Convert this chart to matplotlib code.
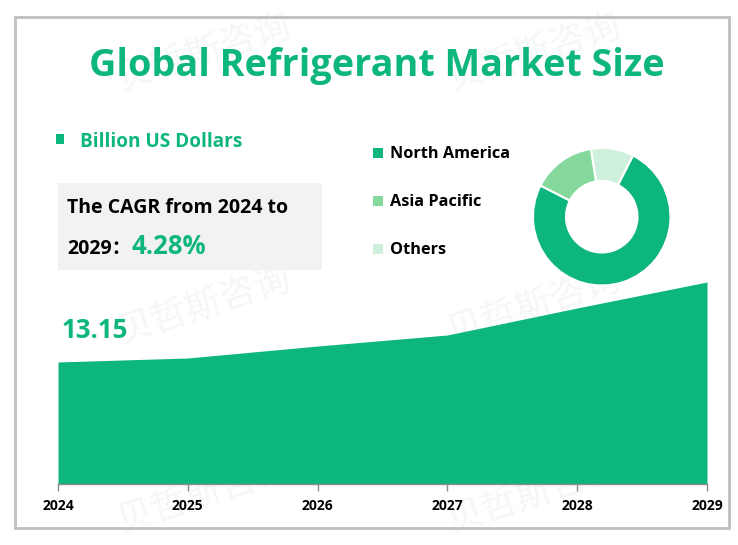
import matplotlib
matplotlib.use("Agg")
import matplotlib.pyplot as plt
from matplotlib.patches import Rectangle

W, H = 738, 545
GREEN = "#0DB57F"
plt.rcParams["font.family"] = ["Open Sans", "Noto Sans CJK SC", "DejaVu Sans"]

years = [2024, 2025, 2026, 2027, 2028, 2029]
market_size = [13.15, 13.58, 14.87, 16.06, 18.97, 21.77]
regions = ["North America", "Asia Pacific", "Others"]
shares = [75, 15, 10]
region_colors = ["#0DB57F", "#86D99D", "#CFF0DD"]
title = "Global Refrigerant Market Size"
unit = "Billion US Dollars"
first_label = "13.15"
cagr_line1 = "The CAGR from 2024 to"
cagr_line2 = "2029："
cagr_value = "4.28%"
watermark = "贝哲斯咨询"

fig = plt.figure(figsize=(W / 100, H / 100), dpi=100, facecolor="white")

def fx(x): return x / W
def fy(y): return 1 - y / H

bg = fig.add_axes([0, 0, 1, 1], zorder=0)
bg.set_xlim(0, W); bg.set_ylim(H, 0); bg.axis("off")
bg.add_patch(Rectangle((15, 17), 714, 511, fill=False, ec="#BFBFBF", lw=2))

for (x, y) in [(205, 52), (535, 52), (205, 305), (535, 305), (205, 494), (535, 494)]:
    bg.text(x, y, watermark, fontsize=26, color="#F5F7F6", rotation=18, ha="center",
            va="center", family=["Noto Sans CJK SC"], zorder=0)

bg.add_patch(Rectangle((58, 183), 264, 87, fc="#F2F2F2", ec="none", zorder=1))
bg.add_patch(Rectangle((56, 134), 8, 10, fc=GREEN, ec="none", zorder=2))
bg.text(377, 66, title, fontsize=27.2, fontweight="bold", color=GREEN, ha="center", va="center", zorder=2)
bg.text(80, 142, unit, fontsize=13.7, fontweight="bold", color=GREEN, va="center", zorder=2)
bg.text(67, 208, cagr_line1, fontsize=14, fontweight="bold", color="black", va="center", zorder=2)
bg.text(67, 249, cagr_line2, fontsize=14, fontweight="bold", color="black", va="center", zorder=2)
bg.text(131, 247, cagr_value, fontsize=18.5, fontweight="bold", color=GREEN, va="center", zorder=2)
bg.text(62, 330, first_label, fontsize=18.5, fontweight="bold", color=GREEN, va="center", zorder=2)

for i, (name, c) in enumerate(zip(regions, region_colors)):
    yy = 153 + 48 * i
    bg.add_patch(Rectangle((373, yy - 5), 10, 10, fc=c, ec="none", zorder=2))
    bg.text(390, yy + 1, name, fontsize=11.7, fontweight="bold", color="black", va="center", zorder=2)

ax = fig.add_axes([fx(58), fy(484), (707 - 58) / W, (484 - 282) / H], zorder=2)
ax.patch.set_alpha(0)
ax.fill_between(years, market_size, 0, color=GREEN, lw=0)
ax.set_xlim(2024, 2029)
ax.set_ylim(0, 21.77)
ax.set_xticks(years)
ax.set_xticklabels([str(y) for y in years], fontsize=10, fontweight="bold", color="black")
ax.set_yticks([])
for s in ["top", "left", "right"]:
    ax.spines[s].set_visible(False)
ax.spines["bottom"].set_color("#8C8C8C")
ax.spines["bottom"].set_linewidth(1)
ax.tick_params(axis="x", length=5, width=1, color="#8C8C8C", pad=6)

pie_ax = fig.add_axes([fx(533), fy(285.5), 137.5 / W, 137.5 / H], zorder=3)
pie_ax.pie(shares, colors=region_colors, startangle=63, counterclock=False, radius=1,
           wedgeprops=dict(width=0.48, edgecolor="white", linewidth=1.5))
pie_ax.set_xlim(-1, 1); pie_ax.set_ylim(-1, 1)

fig.savefig("out.png", dpi=100)
